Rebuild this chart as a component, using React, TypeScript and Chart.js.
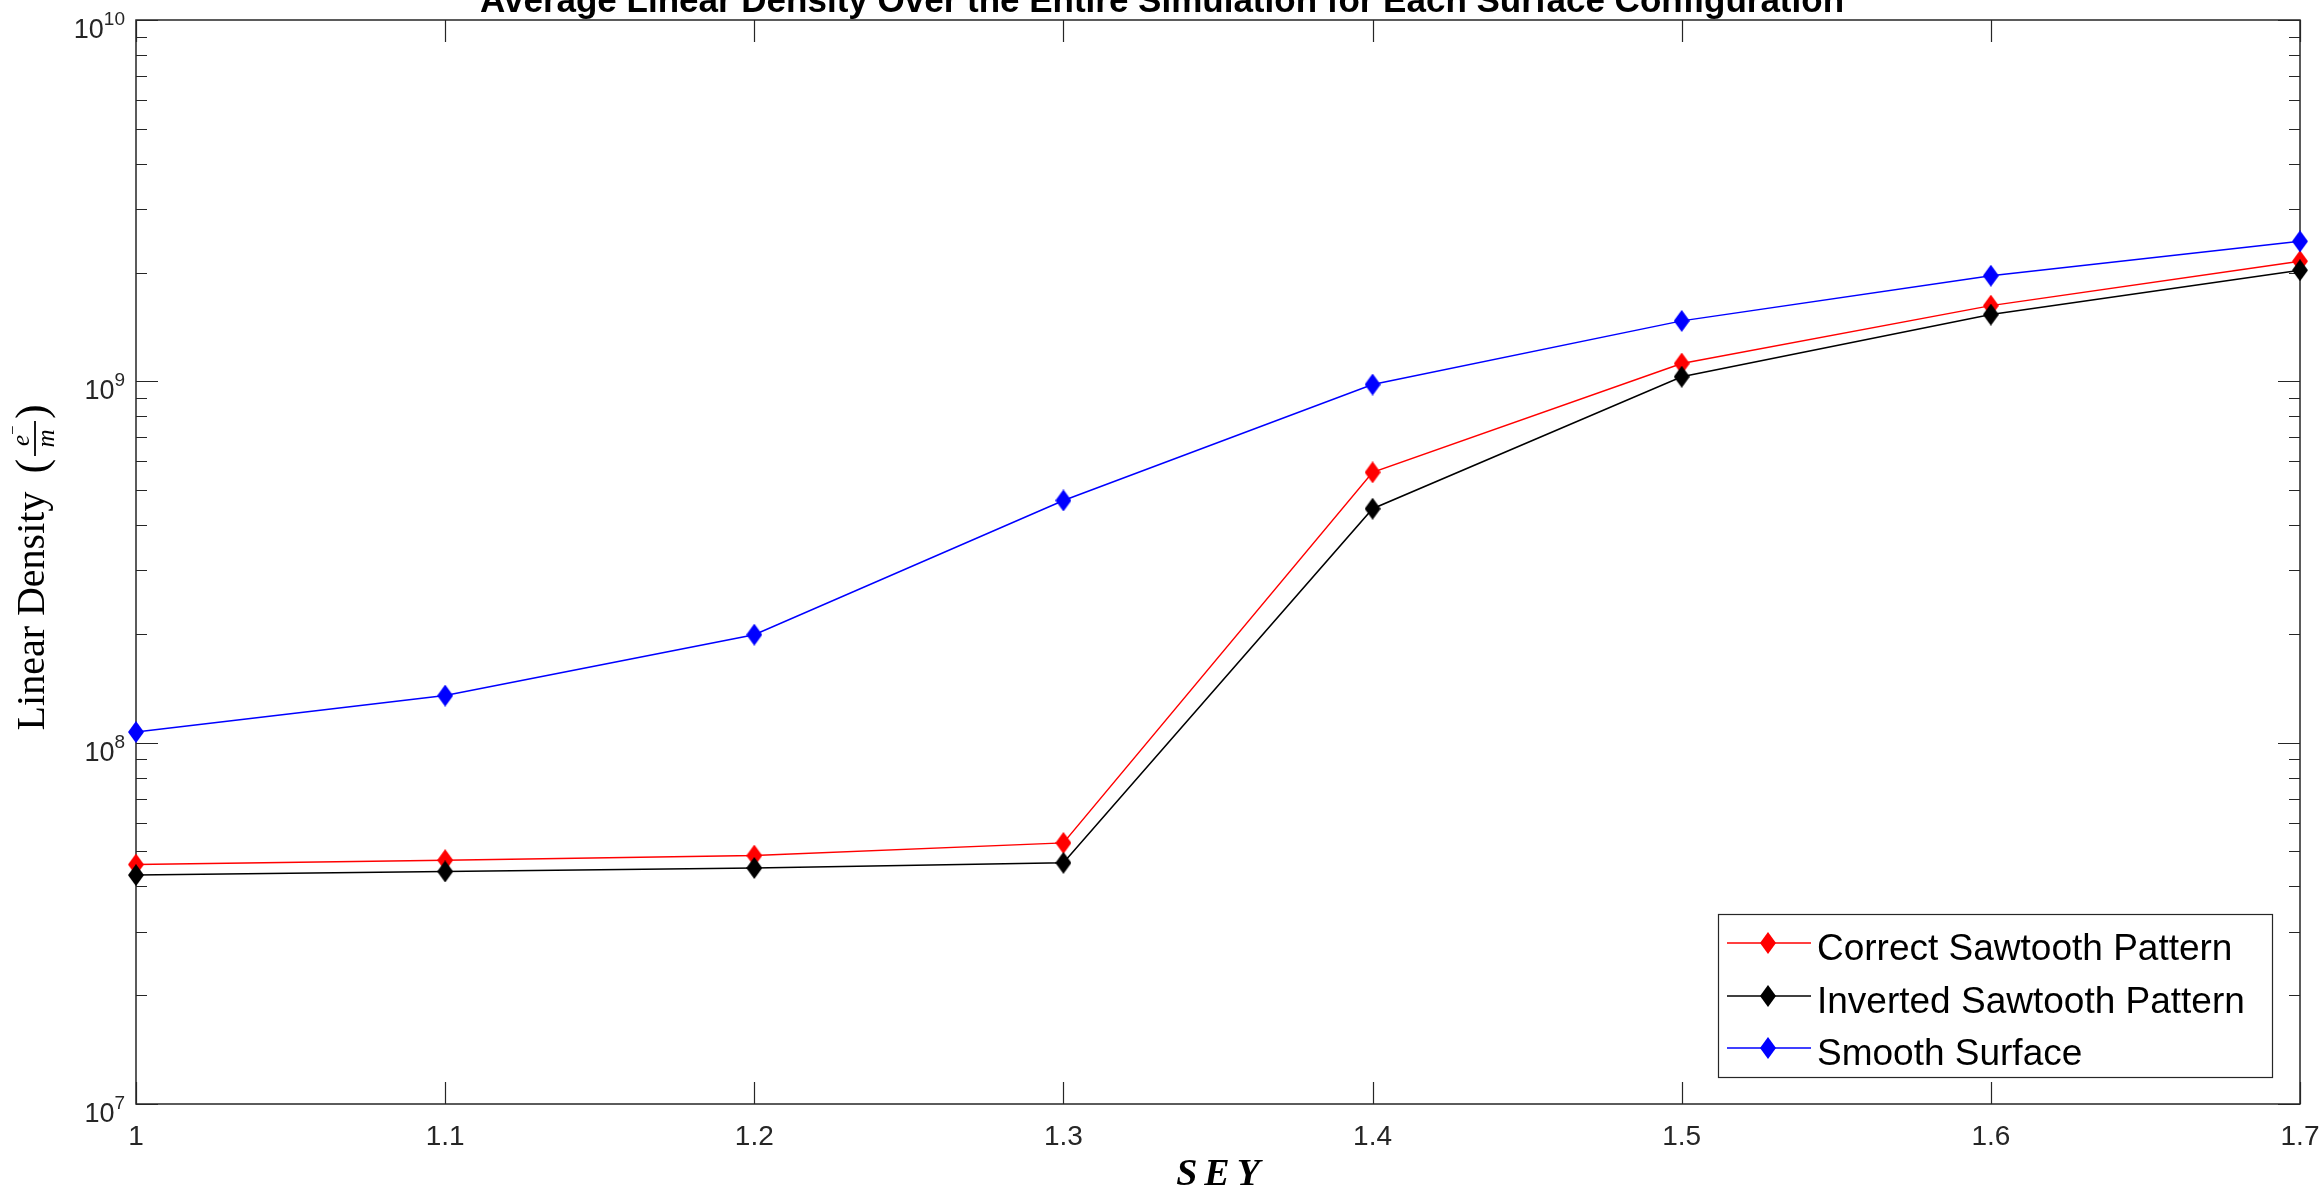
import React, { useEffect, useRef } from 'react';
import { Chart, registerables } from 'chart.js';

Chart.register(...registerables);

// ---- data ----
const SEY = [1.0, 1.1, 1.2, 1.3, 1.4, 1.5, 1.6, 1.7];
const CORRECT = [4.6e7, 4.73e7, 4.87e7, 5.28e7, 5.6e8, 1.12e9, 1.62e9, 2.15e9];
const INVERTED = [4.3e7, 4.4e7, 4.5e7, 4.65e7, 4.44e8, 1.03e9, 1.53e9, 2.03e9];
const SMOOTH = [1.07e8, 1.35e8, 1.99e8, 4.68e8, 9.8e8, 1.47e9, 1.96e9, 2.44e9];

const SERIES_LABELS = ['Correct Sawtooth Pattern', 'Inverted Sawtooth Pattern', 'Smooth Surface'];
const SERIES_COLORS = ['#ff0000', '#000000', '#0000ff'];

const X_TICKS = [1, 1.1, 1.2, 1.3, 1.4, 1.5, 1.6, 1.7];
const X_TICK_LABELS = ['1', '1.1', '1.2', '1.3', '1.4', '1.5', '1.6', '1.7'];
const Y_DECADES = [7, 8, 9, 10];
const Y_MINOR_MULTIPLIERS = [2, 3, 4, 5, 6, 7, 8, 9];

const TITLE = 'Average Linear Density Over the Entire Simulation for Each Surface Configuration';
const X_TITLE = 'SEY';
const Y_TITLE = 'Linear Density';

function makeDiamond(color: string): HTMLCanvasElement {
  const w = 16;
  const h = 22;
  const c = document.createElement('canvas');
  c.width = w;
  c.height = h;
  const g = c.getContext('2d')!;
  g.fillStyle = color;
  g.beginPath();
  g.moveTo(w / 2, 0);
  g.lineTo(w, h / 2);
  g.lineTo(w / 2, h);
  g.lineTo(0, h / 2);
  g.closePath();
  g.fill();
  return c;
}

export default function App() {
  const ref = useRef<HTMLCanvasElement | null>(null);

  useEffect(() => {
    const canvas = ref.current;
    if (!canvas) return;
    const axisColor = '#262626';
    const sans = '"Liberation Sans", Arial, Helvetica, sans-serif';
    const serif = '"Liberation Serif", "Times New Roman", serif';
    const markers = SERIES_COLORS.map((c) => makeDiamond(c));

    const plugin = {
      id: 'matlabLook',
      beforeDraw(chart: any) {
        const ctx = chart.ctx;
        ctx.save();
        ctx.fillStyle = '#ffffff';
        ctx.fillRect(0, 0, chart.width, chart.height);
        ctx.restore();
      },
      beforeDatasetsDraw(chart: any) {
        const ctx = chart.ctx as CanvasRenderingContext2D;
        const { left, right, top, bottom } = chart.chartArea;
        const xs = chart.scales.x;
        const ys = chart.scales.y;
        ctx.save();
        ctx.strokeStyle = axisColor;
        ctx.lineWidth = 1.5;
        ctx.strokeRect(left, top, right - left, bottom - top);

        // x ticks (inside, bottom and top)
        ctx.lineWidth = 1.2;
        X_TICKS.forEach((v) => {
          const px = Math.round(xs.getPixelForValue(v)) + 0.5;
          ctx.beginPath();
          ctx.moveTo(px, bottom);
          ctx.lineTo(px, bottom - 22);
          ctx.moveTo(px, top);
          ctx.lineTo(px, top + 22);
          ctx.stroke();
        });
        // y major & minor ticks (inside, left and right)
        Y_DECADES.forEach((d) => {
          const py = Math.round(ys.getPixelForValue(Math.pow(10, d))) + 0.5;
          ctx.beginPath();
          ctx.moveTo(left, py);
          ctx.lineTo(left + 22, py);
          ctx.moveTo(right, py);
          ctx.lineTo(right - 22, py);
          ctx.stroke();
          if (d < Y_DECADES[Y_DECADES.length - 1]) {
            Y_MINOR_MULTIPLIERS.forEach((m) => {
              const pm = Math.round(ys.getPixelForValue(m * Math.pow(10, d))) + 0.5;
              ctx.beginPath();
              ctx.moveTo(left, pm);
              ctx.lineTo(left + 11, pm);
              ctx.moveTo(right, pm);
              ctx.lineTo(right - 11, pm);
              ctx.stroke();
            });
          }
        });

        // x tick labels
        ctx.fillStyle = axisColor;
        ctx.font = `28px ${sans}`;
        ctx.textAlign = 'center';
        ctx.textBaseline = 'alphabetic';
        X_TICKS.forEach((v, i) => {
          ctx.fillText(X_TICK_LABELS[i], xs.getPixelForValue(v), bottom + 41);
        });

        // y tick labels 10^n
        Y_DECADES.forEach((d) => {
          const py = ys.getPixelForValue(Math.pow(10, d));
          const exp = String(d);
          ctx.textAlign = 'left';
          ctx.font = `19px ${sans}`;
          const ew = ctx.measureText(exp).width;
          ctx.font = `27px ${sans}`;
          const bw = ctx.measureText('10').width;
          const R = left - 11;
          ctx.fillText('10', R - ew - bw, py + 18);
          ctx.font = `19px ${sans}`;
          ctx.fillText(exp, R - ew, py + 5);
        });

        // x axis title (math italic bold)
        ctx.fillStyle = '#000000';
        ctx.font = `italic bold 38px ${serif}`;
        const gap = 7;
        const letters = X_TITLE.split('');
        const widths = letters.map((l) => ctx.measureText(l).width);
        const total = widths.reduce((a, b) => a + b, 0) + gap * (letters.length - 1);
        let cx = (left + right) / 2 - total / 2;
        ctx.textAlign = 'left';
        letters.forEach((l, i) => {
          ctx.fillText(l, cx, bottom + 81);
          cx += widths[i] + gap;
        });

        // y axis title: Linear Density (e^- / m)
        ctx.save();
        ctx.font = `40px ${serif}`;
        const w1 = ctx.measureText(Y_TITLE).width;
        const totalW = w1 + 98;
        const midY = (top + bottom) / 2;
        ctx.translate(44, midY + totalW / 2);
        ctx.rotate(-Math.PI / 2);
        ctx.fillStyle = '#000000';
        ctx.textAlign = 'left';
        ctx.fillText(Y_TITLE, 0, 0);
        ctx.font = `44px ${serif}`;
        const p0 = w1 + 18;
        ctx.fillText('(', p0, 2);
        const pw = ctx.measureText('(').width;
        const fx0 = p0 + pw + 3;
        const fx1 = fx0 + 35;
        ctx.lineWidth = 1.8;
        ctx.strokeStyle = '#000000';
        ctx.beginPath();
        ctx.moveTo(fx0, -9);
        ctx.lineTo(fx1, -9);
        ctx.stroke();
        const fc = (fx0 + fx1) / 2;
        ctx.font = `italic 25px ${serif}`;
        const ewid = ctx.measureText('e').width;
        ctx.fillText('e', fc - ewid / 2 - 2, -15);
        ctx.font = `17px ${serif}`;
        ctx.fillText('\u2212', fc + ewid / 2 - 2, -26);
        ctx.font = `italic 25px ${serif}`;
        const mw = ctx.measureText('m').width;
        ctx.fillText('m', fc - mw / 2, 10);
        ctx.font = `44px ${serif}`;
        ctx.fillText(')', fx1 + 2, 2);
        ctx.restore();

        ctx.restore();
      },
      afterDraw(chart: any) {
        const ctx = chart.ctx as CanvasRenderingContext2D;
        ctx.save();
        // title (partly clipped at the top, as in the reference)
        ctx.fillStyle = '#000000';
        ctx.font = `bold 35px ${sans}`;
        ctx.textAlign = 'center';
        ctx.textBaseline = 'alphabetic';
        ctx.fillText(TITLE, 1162, 12);

        // legend
        const lx = 1718.5;
        const ly = 914.5;
        const lw = 554;
        const lh = 163;
        ctx.fillStyle = '#ffffff';
        ctx.fillRect(lx, ly, lw, lh);
        ctx.strokeStyle = axisColor;
        ctx.lineWidth = 1.2;
        ctx.strokeRect(lx, ly, lw, lh);
        const rows = [943, 996, 1048];
        ctx.font = `37px ${sans}`;
        ctx.textAlign = 'left';
        SERIES_LABELS.forEach((label, i) => {
          const ry = rows[i];
          ctx.strokeStyle = SERIES_COLORS[i];
          ctx.lineWidth = 1.5;
          ctx.beginPath();
          ctx.moveTo(1727, ry);
          ctx.lineTo(1811, ry);
          ctx.stroke();
          const m = markers[i];
          ctx.drawImage(m, 1768 - m.width / 2, ry - m.height / 2);
          ctx.fillStyle = '#000000';
          ctx.fillText(label, 1817, ry + 17);
        });
        ctx.restore();
      },
    };

    const seriesData = [CORRECT, INVERTED, SMOOTH];
    const chart = new Chart(canvas, {
      type: 'line',
      data: {
        datasets: seriesData.map((arr, i) => ({
          label: SERIES_LABELS[i],
          data: SEY.map((x, j) => ({ x, y: arr[j] })),
          borderColor: SERIES_COLORS[i],
          backgroundColor: SERIES_COLORS[i],
          borderWidth: 1.5,
          pointStyle: markers[i] as any,
          pointRadius: 8,
          pointHoverRadius: 8,
          tension: 0,
          fill: false,
          clip: false as any,
          order: 3 - i,
        })),
      },
      options: {
        animation: false,
        responsive: false,
        devicePixelRatio: 1,
        events: [],
        layout: { padding: { left: 136, top: 20, right: 23, bottom: 87 } },
        plugins: {
          legend: { display: false },
          title: { display: false },
          tooltip: { enabled: false },
        },
        scales: {
          x: { type: 'linear', min: 1, max: 1.7, display: false },
          y: { type: 'logarithmic', min: 1e7, max: 1e10, display: false },
        },
      },
      plugins: [plugin],
    });
    return () => chart.destroy();
  }, []);

  return (
    <div style={{ position: 'fixed', left: 0, top: 0, width: 2323, height: 1191, background: '#ffffff' }}>
      <canvas ref={ref} width={2323} height={1191} style={{ display: 'block', width: 2323, height: 1191 }} />
    </div>
  );
}
